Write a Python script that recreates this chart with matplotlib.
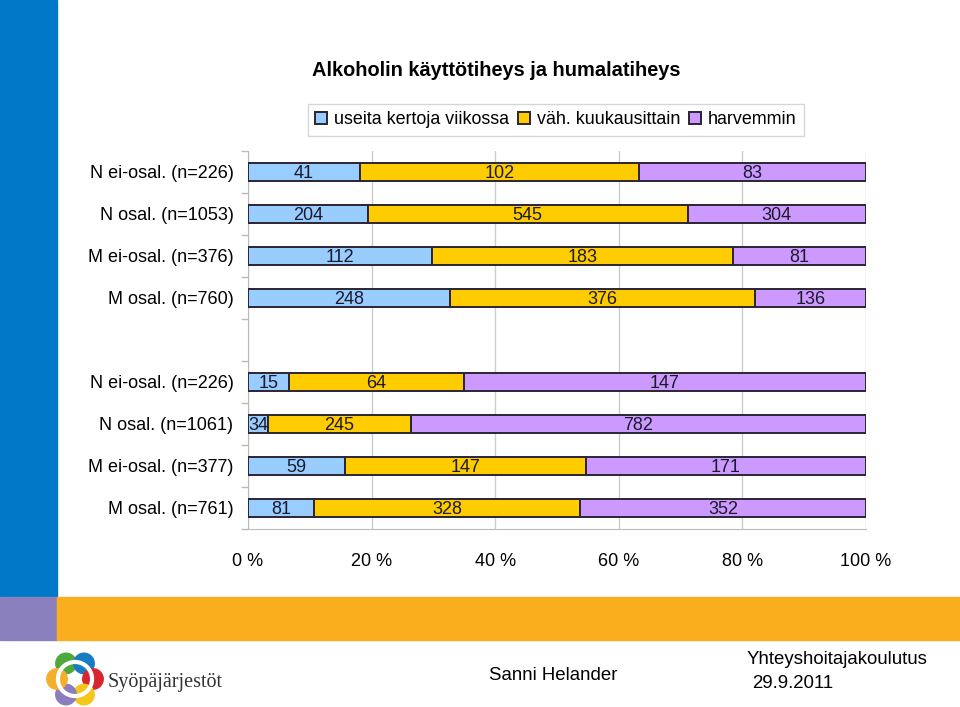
import numpy as np
import matplotlib
matplotlib.use('Agg')
import matplotlib.pyplot as plt
from matplotlib.patches import Rectangle, Circle

plt.rcParams['font.family'] = ['Liberation Sans', 'DejaVu Sans']

title = 'Alkoholin käyttötiheys ja humalatiheys'
series = ['useita kertoja viikossa', 'väh. kuukausittain', 'harvemmin']
colors = ['#99CCFF', '#FFCC00', '#CC99FF']

# upper group
labels_top = ['N ei-osal. (n=226)', 'N osal. (n=1053)', 'M ei-osal. (n=376)', 'M osal. (n=760)']
often_top = [41, 204, 112, 248]
monthly_top = [102, 545, 183, 376]
rarely_top = [83, 304, 81, 136]

# lower group
labels_bot = ['N ei-osal. (n=226)', 'N osal. (n=1061)', 'M ei-osal. (n=377)', 'M osal. (n=761)']
often_bot = [15, 34, 59, 81]
monthly_bot = [64, 245, 147, 328]
rarely_bot = [147, 782, 171, 352]

xticks = [0, 20, 40, 60, 80, 100]

W, H = 960, 707
fig = plt.figure(figsize=(9.6, 7.07), dpi=100)

# slide decoration
def px_rect(x0, y0, x1, y1, color):
    fig.patches.append(Rectangle((x0 / W, 1 - y1 / H), (x1 - x0) / W, (y1 - y0) / H,
                                 transform=fig.transFigure, color=color, zorder=0))

px_rect(0, 0, 57, 597, '#0278C8')
px_rect(0, 597, 57, 640, '#8A80BE')
px_rect(57, 597, 960, 640, '#FBAE1D')

ax = fig.add_axes([248 / W, 1 - 529 / H, (866 - 248) / W, (529 - 151) / H])

labels = labels_top + [''] + labels_bot
often = often_top + [0] + often_bot
monthly = monthly_top + [0] + monthly_bot
rarely = rarely_top + [0] + rarely_bot
counts = np.array([often, monthly, rarely], dtype=float)
tot = counts.sum(axis=0)
tot[tot == 0] = 1
pct = counts / tot * 100
ypos = np.arange(len(labels))

left = np.zeros(len(labels))
for i in range(3):
    keep = counts[i] > 0
    ax.barh(ypos[keep], pct[i][keep], left=left[keep], height=0.42, color=colors[i],
            edgecolor='#2b2533', linewidth=1.4, label=series[i], zorder=3)
    for y, l, w, c in zip(ypos[keep], left[keep], pct[i][keep], counts[i][keep]):
        ax.text(l + w / 2, y + 0.04, '%d' % c, ha='center', va='center', fontsize=13,
                color='#1a1a2a', zorder=4)
    left += pct[i]

ax.set_xlim(0, 100)
ax.set_ylim(len(labels) - 0.5, -0.5)
ax.set_xticks(xticks)
ax.set_xticklabels(['%d %%' % t for t in xticks], fontsize=13)
ax.tick_params(axis='x', length=0, pad=17)
ax.set_yticks(ypos)
ax.set_yticklabels(labels, fontsize=13)
ax.tick_params(axis='y', length=0, pad=10.5)
ax.set_yticks(np.arange(-0.5, len(labels), 1), minor=True)
ax.tick_params(axis='y', which='minor', length=5, color='#bbbbbb', width=1)
ax.grid(axis='x', color='#cccccc', linewidth=1, zorder=0)
for s in ['top', 'right']:
    ax.spines[s].set_visible(False)
for s in ['left', 'bottom']:
    ax.spines[s].set_color('#bbbbbb')

fig.text(496 / W, 1 - 70 / H, title, ha='center', va='center', fontsize=14.4,
         fontweight='bold')

handles, hl = ax.get_legend_handles_labels()
leg = fig.legend(handles, hl, loc='center', bbox_to_anchor=(556 / W, 1 - 120 / H),
                 ncol=3, fontsize=12.9, frameon=True, fancybox=False,
                 handlelength=0.65, handleheight=0.65, handletextpad=0.4,
                 columnspacing=0.5, borderpad=0.4)
leg.get_frame().set_edgecolor('#cccccc')
leg.get_frame().set_linewidth(1)

# footer
fig.text(553 / W, 1 - 676 / H, 'Sanni Helander', ha='center', va='center', fontsize=13.4)
fig.text(747 / W, 1 - 660 / H, 'Yhteyshoitajakoulutus', ha='left', va='center', fontsize=13.4)
fig.text(752 / W, 1 - 684 / H, '29.9.2011', ha='left', va='center', fontsize=13.4)

# logo
lax = fig.add_axes([44 / W, 1 - 710 / H, 62 / W, 62 / H])
lax.set_xlim(-1, 1)
lax.set_ylim(-1, 1)
lax.set_aspect('equal')
lax.axis('off')
logo = [(120, '#4DAA3A'), (60, '#1A7CC0'), (0, '#D7262E'), (-60, '#F7C61B'),
        (-120, '#8C7DBD'), (180, '#F6AE2D')]
for ang, c in logo:
    a = np.radians(ang)
    lax.add_patch(Circle((0.58 * np.cos(a), 0.58 * np.sin(a)), 0.33, color=c))
lax.add_patch(Circle((0, 0), 0.55, fill=False, edgecolor='white', linewidth=3))
fig.text(108 / W, 1 - 682 / H, 'Syöpäjärjestöt', ha='left', va='center', fontsize=14.5,
         family=['Liberation Serif', 'DejaVu Serif'], color='#333333')

fig.savefig('out.png', dpi=100)
